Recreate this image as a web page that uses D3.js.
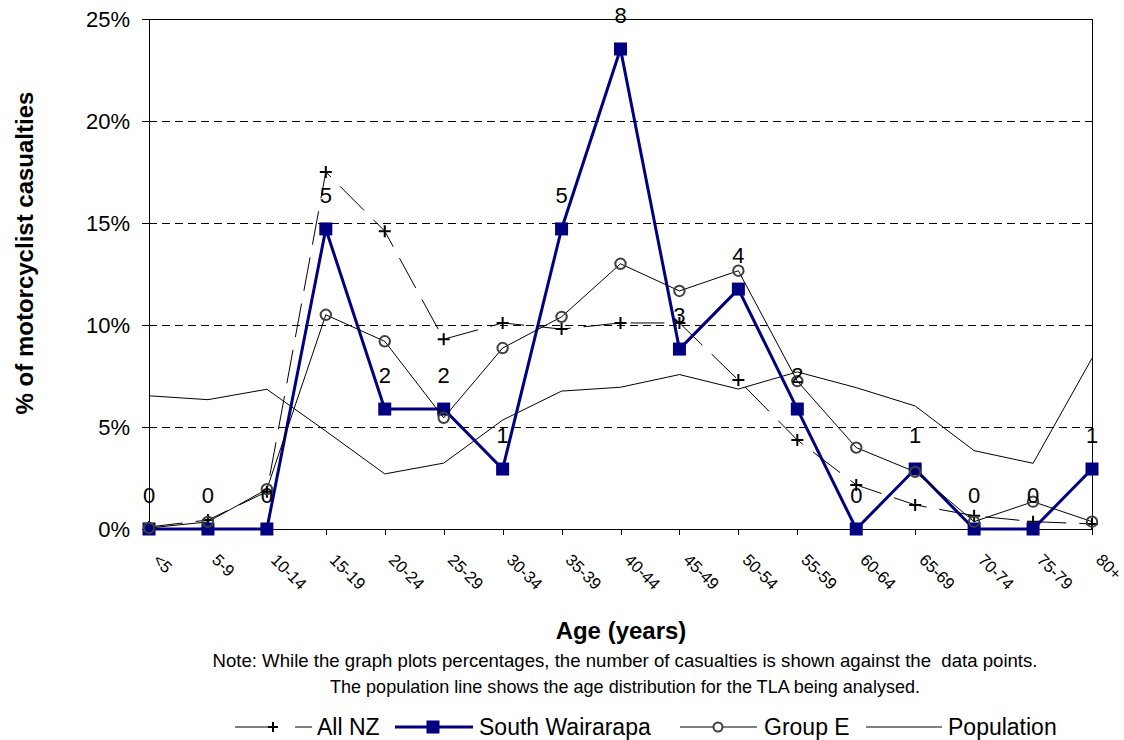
<!DOCTYPE html>
<html>
<head>
<meta charset="utf-8">
<script src="https://cdn.jsdelivr.net/npm/d3@7"></script>
<style>
  html, body { margin: 0; padding: 0; background: #fff; }
  svg { display: block; font-family: Arial, "Liberation Sans", sans-serif; }
</style>
</head>
<body>
<svg id="chart" width="1124" height="740"></svg>
<script>
const categories = ["<5","5-9","10-14","15-19","20-24","25-29","30-34","35-39","40-44","45-49","50-54","55-59","60-64","65-69","70-74","75-79","80+"];
const casualtyCounts = [0,0,0,5,2,2,1,5,8,3,4,2,0,1,0,0,1];
const southWairarapa = [0,0,0,14.71,5.88,5.88,2.94,14.71,23.53,8.82,11.76,5.88,0,2.94,0,0,2.94];
const allNZ = [0.1,0.44,1.83,17.5,14.6,9.3,10.1,9.8,10.1,10.1,7.3,4.36,2.16,1.18,0.65,0.36,0.25];
const groupE = [0.05,0.35,1.95,10.5,9.2,5.45,8.87,10.4,13.0,11.67,12.66,7.25,3.99,2.8,0.36,1.34,0.36];
const population = [6.53,6.34,6.85,4.8,2.7,3.23,5.34,6.76,6.95,7.57,6.86,7.7,6.93,6.03,3.84,3.22,8.37];
const yTicks = [0,5,10,15,20,25];
const gridTicks = [5,10,15,20];
const legendNames = ["All NZ","South Wairarapa","Group E","Population"];

const svg = d3.select("#chart");
const plot = {left: 149, right: 1092, top: 19, bottom: 529};

const x = d3.scalePoint().domain(categories).range([plot.left, plot.right]).padding(0);
const y = d3.scaleLinear().domain([0, 25]).range([plot.bottom, plot.top]);

// gridlines
svg.append("g").selectAll("line").data(gridTicks).join("line")
  .attr("x1", plot.left).attr("x2", plot.right)
  .attr("y1", d => y(d) + 0.5).attr("y2", d => y(d) + 0.5)
  .attr("stroke", "#000").attr("stroke-width", 1).attr("stroke-dasharray", "8,5")
  .attr("shape-rendering", "crispEdges");

// top & right border
svg.append("line").attr("x1", plot.left).attr("x2", plot.right)
  .attr("y1", y(25) + 0.5).attr("y2", y(25) + 0.5).attr("stroke", "#000")
  .attr("shape-rendering", "crispEdges");
svg.append("line").attr("x1", plot.right + 0.5).attr("x2", plot.right + 0.5)
  .attr("y1", y(25)).attr("y2", y(0)).attr("stroke", "#000")
  .attr("shape-rendering", "crispEdges");

// Y axis
const yAxis = svg.append("g").attr("transform", `translate(${plot.left},0)`)
  .call(d3.axisLeft(y).tickValues(yTicks).tickFormat(d => d + "%").tickSize(7).tickPadding(12));
yAxis.select(".domain").attr("stroke", "#000").attr("shape-rendering", "crispEdges");
yAxis.selectAll(".tick line").attr("stroke", "#000").attr("shape-rendering", "crispEdges");
yAxis.selectAll("text").attr("font-size", 22).attr("fill", "#000")
  .attr("font-family", "Arial, 'Liberation Sans', sans-serif");

// X axis
const xAxis = svg.append("g").attr("transform", `translate(0,${plot.bottom})`)
  .call(d3.axisBottom(x).tickSize(6).tickFormat(""));
xAxis.select(".domain").attr("stroke", "#000").attr("shape-rendering", "crispEdges");
xAxis.selectAll(".tick line").attr("stroke", "#000").attr("shape-rendering", "crispEdges");

svg.append("g").selectAll("text").data(categories).join("text")
  .attr("transform", d => `translate(${x(d) + 3},${plot.bottom + 32}) rotate(45)`)
  .attr("font-size", 16.5).attr("fill", "#000").attr("text-anchor", "start")
  .text(d => d);

// line generators
const line = d3.line().x((d, i) => x(categories[i])).y(d => y(d));

// Population
svg.append("path").datum(population).attr("d", line)
  .attr("fill", "none").attr("stroke", "#000").attr("stroke-width", 1);

// All NZ
svg.append("path").datum(allNZ).attr("d", line)
  .attr("fill", "none").attr("stroke", "#000").attr("stroke-width", 1)
  .attr("stroke-dasharray", "34,13");

function plusPath(cx, cy, s) {
  return `M${cx - s},${cy}H${cx + s}M${cx},${cy - s}V${cy + s}`;
}
svg.append("g").selectAll("path").data(allNZ).join("path")
  .attr("d", (d, i) => plusPath(x(categories[i]), y(d), 6))
  .attr("stroke", "#000").attr("stroke-width", 2).attr("fill", "none");

// South Wairarapa
svg.append("path").datum(southWairarapa).attr("d", line)
  .attr("fill", "none").attr("stroke", "#000080").attr("stroke-width", 3)
  .attr("stroke-linejoin", "miter");
svg.append("g").selectAll("rect").data(southWairarapa).join("rect")
  .attr("x", (d, i) => x(categories[i]) - 6.5).attr("y", d => y(d) - 6.5)
  .attr("width", 13).attr("height", 13).attr("fill", "#000080");

// Group E
svg.append("path").datum(groupE).attr("d", line)
  .attr("fill", "none").attr("stroke", "#000").attr("stroke-width", 1);
svg.append("g").selectAll("circle").data(groupE).join("circle")
  .attr("cx", (d, i) => x(categories[i])).attr("cy", d => y(d)).attr("r", 5.2)
  .attr("fill", "none").attr("stroke", "#404040").attr("stroke-width", 2);

// data labels (casualty counts)
svg.append("g").selectAll("text").data(casualtyCounts).join("text")
  .attr("x", (d, i) => x(categories[i])).attr("y", (d, i) => y(southWairarapa[i]) - 26)
  .attr("text-anchor", "middle").attr("font-size", 22).attr("fill", "#000")
  .text(d => d);

// axis titles
svg.append("text").attr("transform", "translate(33,253) rotate(-90)")
  .attr("text-anchor", "middle").attr("font-size", 24).attr("font-weight", "bold")
  .text("% of motorcyclist casualties");
svg.append("text").attr("x", 621).attr("y", 639)
  .attr("text-anchor", "middle").attr("font-size", 24).attr("font-weight", "bold")
  .text("Age (years)");

// notes
const notes = ["Note: While the graph plots percentages, the number of casualties is shown against the  data points.",
               "The population line shows the age distribution for the TLA being analysed."];
const noteWidths = [825, 590];
svg.append("g").selectAll("text").data(notes).join("text")
  .attr("x", (d, i) => 625 - noteWidths[i] / 2).attr("y", (d, i) => 667 + i * 26)
  .attr("text-anchor", "start").attr("font-size", 19).attr("fill", "#000")
  .attr("textLength", (d, i) => noteWidths[i]).attr("lengthAdjust", "spacingAndGlyphs")
  .style("white-space", "pre")
  .text(d => d);

// legend
const ly = 727;
const lg = svg.append("g");
// All NZ
lg.append("line").attr("x1", 235).attr("x2", 312).attr("y1", ly).attr("y2", ly)
  .attr("stroke", "#000").attr("stroke-width", 1).attr("stroke-dasharray", "36,24");
lg.append("path").attr("d", plusPath(273, ly, 5)).attr("stroke", "#000").attr("stroke-width", 2);
// South Wairarapa
lg.append("line").attr("x1", 395).attr("x2", 473).attr("y1", ly).attr("y2", ly)
  .attr("stroke", "#000080").attr("stroke-width", 3);
lg.append("rect").attr("x", 433 - 6.5).attr("y", ly - 6.5).attr("width", 13).attr("height", 13)
  .attr("fill", "#000080");
// Group E
lg.append("line").attr("x1", 680).attr("x2", 757).attr("y1", ly).attr("y2", ly)
  .attr("stroke", "#000").attr("stroke-width", 1);
lg.append("circle").attr("cx", 718).attr("cy", ly).attr("r", 4.5)
  .attr("fill", "#fff").attr("stroke", "#404040").attr("stroke-width", 2);
// Population
lg.append("line").attr("x1", 866).attr("x2", 942).attr("y1", ly).attr("y2", ly)
  .attr("stroke", "#000").attr("stroke-width", 1);

const legendX = [317, 479, 764, 948];
lg.selectAll("text").data(legendNames).join("text")
  .attr("x", (d, i) => legendX[i]).attr("y", ly + 8)
  .attr("font-size", 23).attr("fill", "#000")
  .text(d => d);
</script>
</body>
</html>
